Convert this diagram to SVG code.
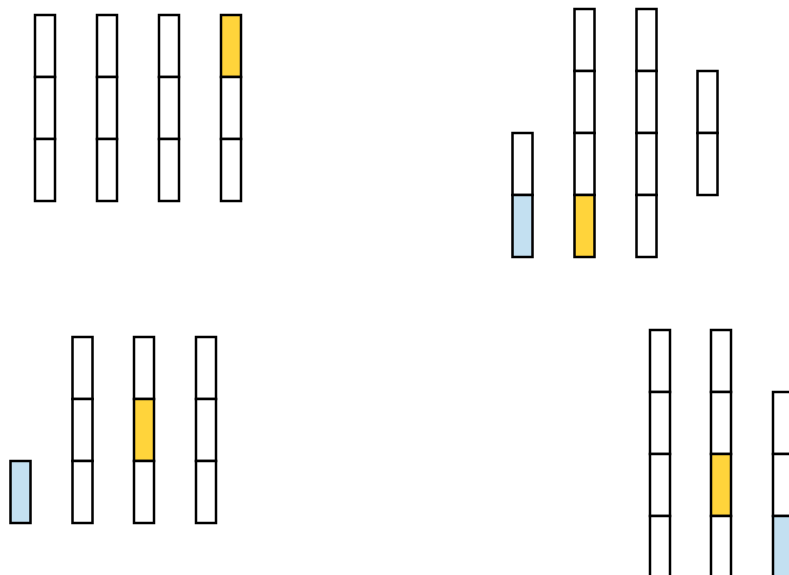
<svg xmlns="http://www.w3.org/2000/svg" width="789" height="575" viewBox="0 0 789 575">
<style>
rect{stroke:#000;stroke-width:2.5;fill:#fff}
.y{fill:#ffd43b}
.b{fill:#c3e0f1}
</style>
<rect x="0" y="0" width="789" height="575" style="stroke:none;fill:#fff"/>
<g id="tl">
<g id="tl1"><rect x="35" y="15" width="20" height="62"/><rect x="35" y="77" width="20" height="62"/><rect x="35" y="139" width="20" height="62"/></g>
<g id="tl2"><rect x="97" y="15" width="20" height="62"/><rect x="97" y="77" width="20" height="62"/><rect x="97" y="139" width="20" height="62"/></g>
<g id="tl3"><rect x="159" y="15" width="20" height="62"/><rect x="159" y="77" width="20" height="62"/><rect x="159" y="139" width="20" height="62"/></g>
<g id="tl4"><rect class="y" x="221" y="15" width="20" height="62"/><rect x="221" y="77" width="20" height="62"/><rect x="221" y="139" width="20" height="62"/></g>
</g>
<g id="tr">
<g id="tr1"><rect x="512.5" y="133" width="20" height="62"/><rect class="b" x="512.5" y="195" width="20" height="62"/></g>
<g id="tr2"><rect x="574.5" y="9" width="20" height="62"/><rect x="574.5" y="71" width="20" height="62"/><rect x="574.5" y="133" width="20" height="62"/><rect class="y" x="574.5" y="195" width="20" height="62"/></g>
<g id="tr3"><rect x="636.5" y="9" width="20" height="62"/><rect x="636.5" y="71" width="20" height="62"/><rect x="636.5" y="133" width="20" height="62"/><rect x="636.5" y="195" width="20" height="62"/></g>
<g id="tr4"><rect x="697.5" y="71" width="20" height="62"/><rect x="697.5" y="133" width="20" height="62"/></g>
</g>
<g id="bl">
<g id="bl1"><rect class="b" x="10.5" y="461" width="20" height="62"/></g>
<g id="bl2"><rect x="72.5" y="337" width="20" height="62"/><rect x="72.5" y="399" width="20" height="62"/><rect x="72.5" y="461" width="20" height="62"/></g>
<g id="bl3"><rect x="134" y="337" width="20" height="62"/><rect class="y" x="134" y="399" width="20" height="62"/><rect x="134" y="461" width="20" height="62"/></g>
<g id="bl4"><rect x="196" y="337" width="20" height="62"/><rect x="196" y="399" width="20" height="62"/><rect x="196" y="461" width="20" height="62"/></g>
</g>
<g id="br">
<g id="br1"><rect x="650" y="330" width="20" height="62"/><rect x="650" y="392" width="20" height="62"/><rect x="650" y="454" width="20" height="62"/><rect x="650" y="516" width="20" height="62"/></g>
<g id="br2"><rect x="711" y="330" width="20" height="62"/><rect x="711" y="392" width="20" height="62"/><rect class="y" x="711" y="454" width="20" height="62"/><rect x="711" y="516" width="20" height="62"/></g>
<g id="br3"><rect x="773" y="392" width="20" height="62"/><rect x="773" y="454" width="20" height="62"/><rect class="b" x="773" y="516" width="20" height="62"/></g>
</g>
<g id="connectors"></g>
</svg>
